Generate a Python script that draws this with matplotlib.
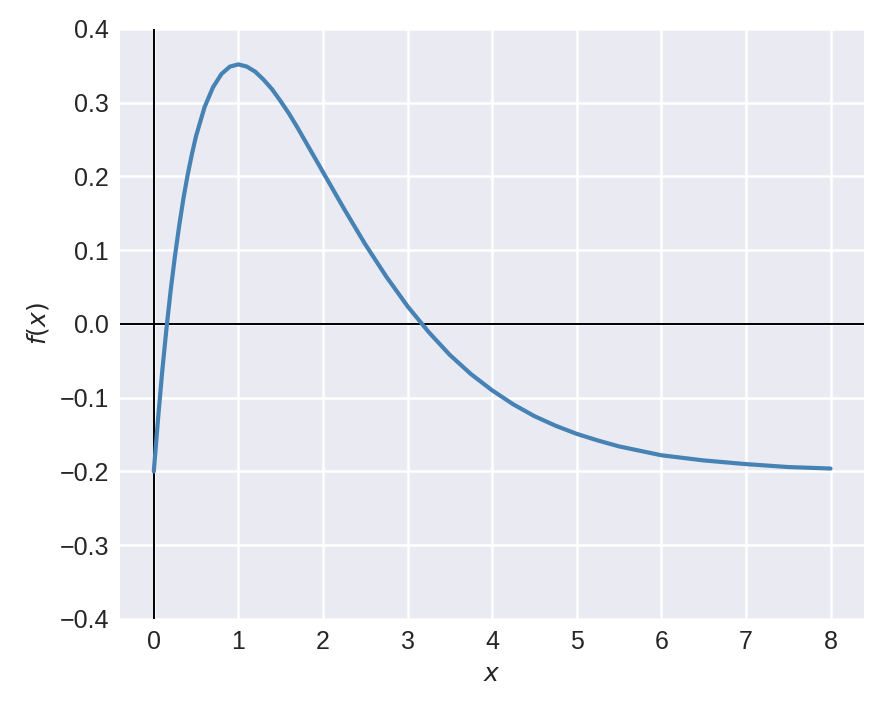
import matplotlib
matplotlib.use('Agg')
import matplotlib.pyplot as plt

# values
x_vals = [0, 0.05, 0.1, 0.15, 0.2, 0.25, 0.3, 0.35, 0.4, 0.45, 0.5, 0.6, 0.7,
          0.8, 0.9, 1.0, 1.1, 1.2, 1.3, 1.4, 1.5, 1.6, 1.7, 1.8, 1.9, 2.0,
          2.25, 2.5, 2.75, 3.0, 3.25, 3.5, 3.75, 4.0, 4.25, 4.5, 4.75, 5.0,
          5.25, 5.5, 5.75, 6.0, 6.5, 7.0, 7.5, 8.0]
y_vals = [-0.200, -0.129, -0.064, -0.006, 0.046, 0.092, 0.133, 0.170, 0.202,
          0.230, 0.255, 0.294, 0.321, 0.339, 0.349, 0.352, 0.349, 0.342,
          0.331, 0.318, 0.302, 0.285, 0.266, 0.246, 0.226, 0.206, 0.156,
          0.108, 0.064, 0.024, -0.011, -0.042, -0.068, -0.090, -0.109, -0.125,
          -0.138, -0.149, -0.158, -0.166, -0.172, -0.178, -0.185, -0.190,
          -0.194, -0.196]

plt.style.use('seaborn-v0_8-darkgrid')
plt.rcParams['font.family'] = ['Liberation Sans', 'DejaVu Sans']
plt.rcParams['font.size'] = 18

fig = plt.figure(figsize=(8.82, 7.07), dpi=100)
ax = fig.add_axes([0.136, 0.1245, 0.844, 0.8345])

ax.axhline(0, color='black', linewidth=1.4)
ax.axvline(0, color='black', linewidth=1.4)
ax.plot(x_vals, y_vals, color='steelblue', linewidth=3.0)

ax.set_xlim(-0.4, 8.4)
ax.set_ylim(-0.4, 0.4)
ax.set_xticks(range(0, 9))
ax.set_yticks([-0.4, -0.3, -0.2, -0.1, 0.0, 0.1, 0.2, 0.3, 0.4])
ax.tick_params(labelsize=18, colors='#262626', pad=8)
ax.grid(True, color='white', linewidth=1.8)
ax.set_xlabel(r'$x$', fontsize=18, labelpad=6)
ax.set_ylabel(r'$f(x)$', fontsize=18, labelpad=6)

fig.savefig('out.png', dpi=100)
